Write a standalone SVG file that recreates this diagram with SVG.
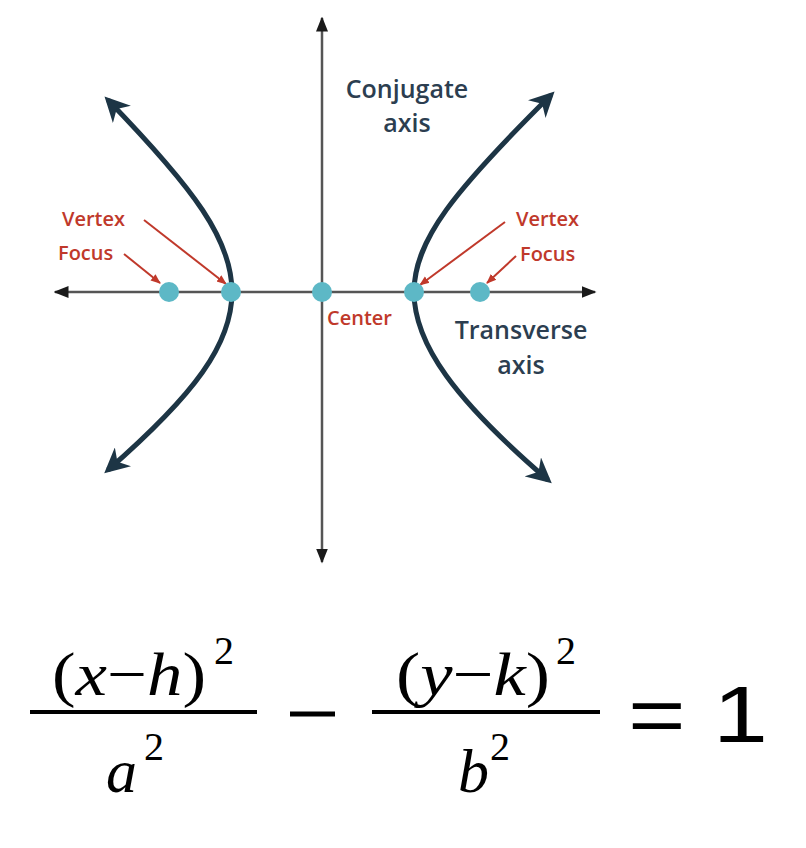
<svg xmlns="http://www.w3.org/2000/svg" width="806" height="848" viewBox="0 0 806 848">
<style>
.ax{stroke:#555;stroke-width:2.5;fill:none}
.hy{stroke:#1d3545;stroke-width:5;fill:none}
.pt{fill:#5db8c6}
.red{fill:#c0392b;font-family:"Open Sans","Liberation Sans",sans-serif;font-size:20px;font-weight:600}
.blu{fill:#2c3e50;font-family:"Open Sans","Liberation Sans",sans-serif;font-size:25px;font-weight:600}
.ld{stroke:#c0392b;stroke-width:2;fill:none}
.m{font-family:"Liberation Serif",serif;font-size:62px;fill:#000}
.s{font-family:"Liberation Serif",serif;font-size:40px;fill:#000}
</style>
<defs>
<marker id="ah" viewBox="0 0 10 10" refX="9" refY="5" markerWidth="6" markerHeight="6" orient="auto-start-reverse"><path d="M0,1 L10,5 L0,9 z" fill="#1a1a1a"/></marker>
<marker id="hh" viewBox="0 0 10 10" refX="8" refY="5" markerWidth="5" markerHeight="5" orient="auto-start-reverse"><path d="M0,0 L10,5 L0,10 L3,5 z" fill="#1d3545"/></marker>
<marker id="rh" viewBox="0 0 10 10" refX="9" refY="5" markerWidth="5" markerHeight="5" orient="auto"><path d="M0,1 L10,5 L0,9 z" fill="#c0392b"/></marker>
</defs>
<g id="connectors">
<line class="ax" x1="55" y1="292" x2="595" y2="292" marker-start="url(#ah)" marker-end="url(#ah)"/>
<line class="ax" x1="322" y1="18" x2="322" y2="562" marker-start="url(#ah)" marker-end="url(#ah)"/>
<path class="hy" d="M108,100 C195,190 232,240 232,292 C232,344 195,394 108,470" marker-start="url(#hh)" marker-end="url(#hh)"/>
<path class="hy" d="M551,95 C455,190 414,240 414,292 C414,344 455,400 548,480" marker-start="url(#hh)" marker-end="url(#hh)"/>
<path class="ld" d="M144,220 L226,284" marker-end="url(#rh)"/>
<path class="ld" d="M124,254 L160,283" marker-end="url(#rh)"/>
<path class="ld" d="M505,222 L420,285" marker-end="url(#rh)"/>
<path class="ld" d="M516,256 L487,283" marker-end="url(#rh)"/>
</g>
<g id="points">
<circle class="pt" cx="169" cy="292" r="10"/>
<circle class="pt" cx="231" cy="292" r="10"/>
<circle class="pt" cx="322" cy="292" r="10"/>
<circle class="pt" cx="414" cy="292" r="10"/>
<circle class="pt" cx="480" cy="292" r="10"/>
</g>
<g id="labels">
<text class="blu" x="407" y="98" text-anchor="middle">Conjugate</text>
<text class="blu" x="407" y="132" text-anchor="middle">axis</text>
<text class="red" x="62" y="226">Vertex</text>
<text class="red" x="58" y="260">Focus</text>
<text class="red" x="516" y="226">Vertex</text>
<text class="red" x="520" y="261">Focus</text>
<text class="red" x="327" y="325">Center</text>
<text class="blu" x="521" y="339" text-anchor="middle">Transverse</text>
<text class="blu" x="521" y="374" text-anchor="middle">axis</text>
</g>
<g id="formula">
<text class="m" x="52" y="695" textLength="154" lengthAdjust="spacingAndGlyphs">(<tspan font-style="italic">x</tspan>−<tspan font-style="italic">h</tspan>)</text>
<text class="s" x="214" y="664">2</text>
<line x1="30" y1="712" x2="257" y2="712" stroke="#000" stroke-width="4"/>
<text class="m" x="106" y="792" font-style="italic">a</text>
<text class="s" x="144" y="760">2</text>
<line x1="290" y1="714" x2="335" y2="714" stroke="#000" stroke-width="5"/>
<text class="m" x="396" y="695" textLength="154" lengthAdjust="spacingAndGlyphs">(<tspan font-style="italic">y</tspan>−<tspan font-style="italic">k</tspan>)</text>
<text class="s" x="556" y="664">2</text>
<line x1="372" y1="712" x2="600" y2="712" stroke="#000" stroke-width="4"/>
<text class="m" x="458" y="792" font-style="italic">b</text>
<text class="s" x="490" y="760">2</text>
<text x="628" y="742" font-family="Liberation Sans,sans-serif" font-size="80" textLength="140" lengthAdjust="spacingAndGlyphs">= 1</text>
</g>
</svg>
